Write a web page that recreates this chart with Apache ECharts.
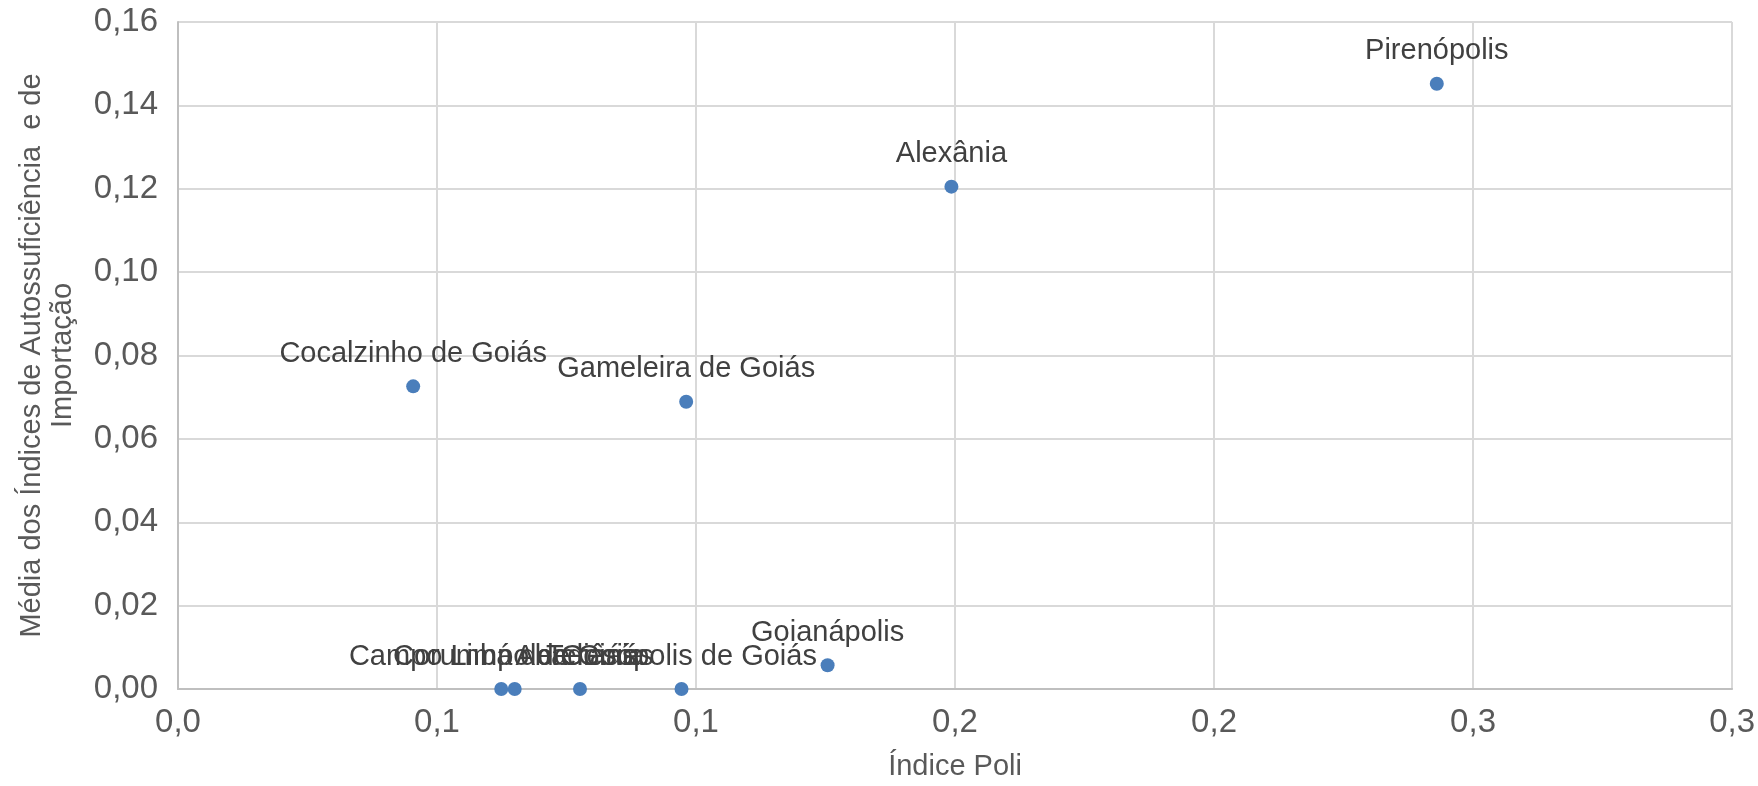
<!DOCTYPE html>
<html>
<head>
<meta charset="utf-8">
<script src="https://cdn.jsdelivr.net/npm/echarts@6/dist/echarts.min.js"></script>
<style>
html,body{margin:0;padding:0;background:#fff;}
#chart{width:1758px;height:786px;}
</style>
</head>
<body>
<div id="chart"></div>
<script>
const municipios = ['Campo Limpo de Goiás','Corumbá de Goiás','Abadiânia','Teresópolis de Goiás','Goianápolis','Cocalzinho de Goiás','Gameleira de Goiás','Alexânia','Pirenópolis'];
const indicePoli = [0.0624, 0.0650, 0.0776, 0.0972, 0.1254, 0.0454, 0.0981, 0.1493, 0.2430];
const mediaIndices = [0.0000, 0.0000, 0.0000, 0.0000, 0.0057, 0.0726, 0.0689, 0.1205, 0.1452];
const xTickLabels = ['0,0','0,1','0,1','0,2','0,2','0,3','0,3'];
const yTickLabels = ['0,00','0,02','0,04','0,06','0,08','0,10','0,12','0,14','0,16'];
const xAxisTitle = 'Índice Poli';
const yAxisTitle = 'Média dos Índices de Autossuficiência  e de\nImportação';

const FONT = '"Liberation Sans", Arial, sans-serif';
const chart = echarts.init(document.getElementById('chart'), null, {renderer:'canvas'});
const points = municipios.map((m,i)=>({name:m, value:[indicePoli[i], mediaIndices[i]]}));

chart.setOption({
  animation:false,
  backgroundColor:'#ffffff',
  grid:{left:178, right:25, top:22, bottom:90, containLabel:false},
  xAxis:{
    type:'value', min:0, max:0.3, interval:0.05,
    name:xAxisTitle, nameLocation:'middle', nameGap:63,
    nameTextStyle:{fontFamily:FONT, fontSize:29, color:'#595959'},
    axisLine:{show:true, lineStyle:{color:'#bfbfbf', width:2}},
    axisTick:{show:false},
    axisLabel:{margin:17, fontFamily:FONT, fontSize:33, color:'#595959',
      formatter:(v)=>xTickLabels[Math.round(v/0.05)]},
    splitLine:{show:true, lineStyle:{color:'#d9d9d9', width:2}}
  },
  yAxis:{
    type:'value', min:0, max:0.16, interval:0.02,
    name:yAxisTitle, nameLocation:'middle', nameGap:100, nameRotate:90,
    nameTextStyle:{fontFamily:FONT, fontSize:29, color:'#595959', lineHeight:31, align:'center'},
    axisLine:{show:true, lineStyle:{color:'#bfbfbf', width:2}},
    axisTick:{show:false},
    axisLabel:{margin:20, fontFamily:FONT, fontSize:33, color:'#595959',
      formatter:(v)=>yTickLabels[Math.round(v/0.02)]},
    splitLine:{show:true, lineStyle:{color:'#d9d9d9', width:2}}
  },
  series:[{
    type:'scatter',
    data:points,
    symbol:'circle',
    symbolSize:14,
    itemStyle:{color:'#4a7ebb', opacity:1},
    label:{show:true, position:'top', distance:11, formatter:'{b}',
      fontFamily:FONT, fontSize:29, color:'#404040'},
    emphasis:{disabled:true},
    labelLayout:{hideOverlap:false}
  }]
});
</script>
</body>
</html>
